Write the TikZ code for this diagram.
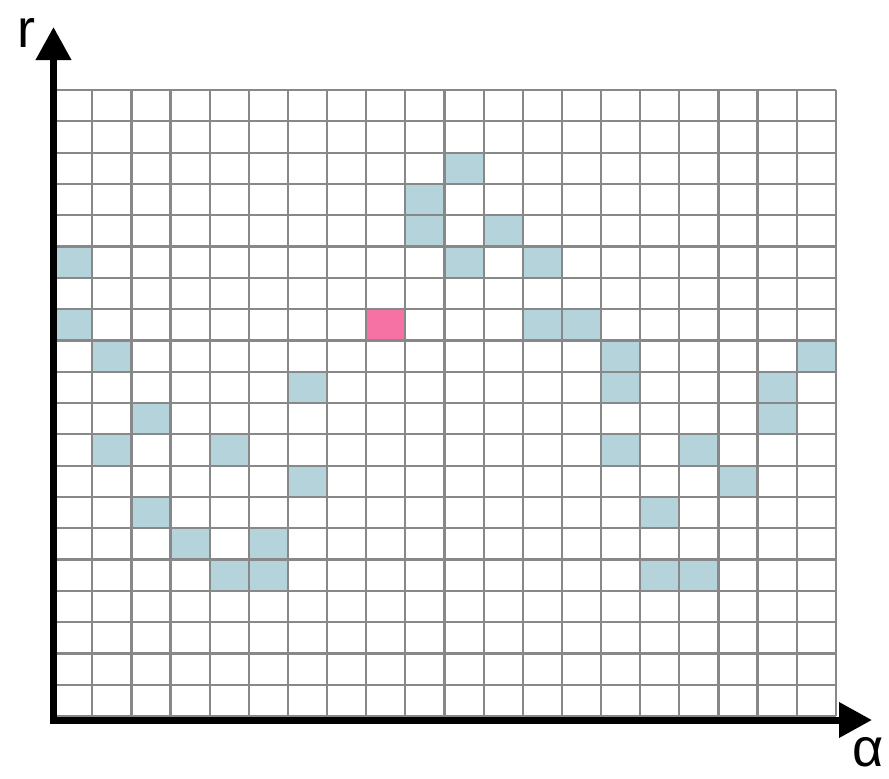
\documentclass[tikz,border=0pt]{standalone}
\usepackage{fontspec}
\setmainfont{Liberation Sans}
\usetikzlibrary{arrows.meta}
\definecolor{cellblue}{HTML}{B5D3DB}
\definecolor{cellpink}{HTML}{F672A4}
\definecolor{gridgray}{HTML}{888888}
\tikzset{
  gridline/.style={draw=gridgray, line width=2.2pt},
  bluecell/.style={fill=cellblue},
  pinkcell/.style={fill=cellpink},
  axislabel/.style={inner sep=0pt, font=\fontsize{54}{58}\selectfont}
}
\begin{document}
\begin{tikzpicture}[x=1pt,y=-1pt]
\useasboundingbox (0,0) rectangle (889,779);
% cells
\foreach \c/\r in {0/5,0/7,1/8,1/11,2/10,2/13,3/14,4/11,4/15,5/14,5/15,6/9,6/12,9/3,9/4,10/2,10/5,11/4,12/5,12/7,13/7,14/8,14/9,14/11,15/13,15/15,16/11,16/15,17/12,18/9,18/10,19/8}
  \fill[bluecell] ({53.2+39.13*\c},{90+31.3*\r}) rectangle ({53.2+39.13*(\c+1)},{90+31.3*(\r+1)});
\fill[pinkcell] ({53.2+39.13*8},{90+31.3*7}) rectangle ({53.2+39.13*9},{90+31.3*8});
% grid
\foreach \i in {0,...,20}
  \draw[gridline] ({53.2+39.13*\i},90) -- ({53.2+39.13*\i},716);
\foreach \j in {0,...,20}
  \draw[gridline] (53.2,{90+31.3*\j}) -- (835.8,{90+31.3*\j});
% axes
\coordinate (rtip) at (53.5,27);
\coordinate (origin) at (53.5,720);
\coordinate (atip) at (872,720);
\draw[line width=7pt, line join=miter, {Triangle[length=33pt,width=34pt]}-{Triangle[length=33pt,width=34pt]}] (rtip) -- (origin) -- (atip);
\node[axislabel, anchor=base west] (rlabel) at (17.5,47) {r};
\node[axislabel, anchor=base west] (alabel) at (852,766) {α};
\end{tikzpicture}
\end{document}
